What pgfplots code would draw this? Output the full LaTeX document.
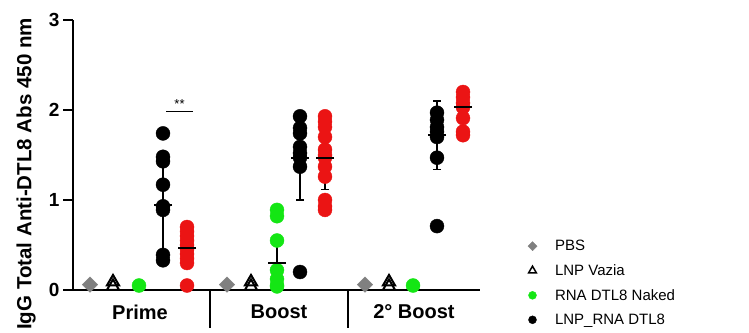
\documentclass[border=0pt]{standalone}
\usepackage{pgfplots}
\pgfplotsset{compat=1.18}
\usepackage{fontspec}
\setmainfont{Liberation Sans}
\definecolor{pbsgray}{RGB}{128,128,128}
\definecolor{nakedgreen}{RGB}{20,230,20}
\definecolor{lnpred}{RGB}{235,20,20}
\begin{document}
\begin{tikzpicture}[x=1pt,y=1pt]
\useasboundingbox (0,0) rectangle (749,332);
\begin{axis}[
  at={(73pt,42pt)}, anchor=south west, scale only axis,
  width=407pt, height=270pt,
  xmin=73, xmax=480, ymin=0, ymax=3,
  axis lines*=left,
  axis line style={line width=2.5pt, black},
  clip=false,
  ytick={0,1,2,3},
  xtick={140,279,414},
  xticklabels={Prime,Boost,2° Boost},
  tick align=outside,
  major tick length=10pt,
  x tick style={draw=none},
  y tick style={line width=2.5pt, black},
  yticklabel style={font=\fontsize{19}{19}\selectfont\bfseries},
  xticklabel style={font=\fontsize{20}{20}\selectfont\bfseries, yshift=-1pt},
  /pgf/number format/assume math mode=true,
  ylabel={IgG Total Anti-DTL8 Abs 450 nm},
  ylabel style={at={(axis description cs:-0.115,-0.148)}, anchor=west, inner sep=0pt, font=\fontsize{20.5}{20.5}\selectfont\bfseries},
  legend style={at={(axis description cs:1.11,0.20)}, anchor=north west, draw=none, fill=none,
    font=\fontsize{15}{18}\selectfont, row sep=8.3pt,
    /tikz/every odd column/.append style={column sep=16pt}},
  legend cell align=left,
]
\addlegendimage{only marks, mark=square*, color=pbsgray, mark size=3.2pt, mark options={rotate=45}}
\addlegendentry{PBS}
\addlegendimage{only marks, mark=triangle, color=black, mark size=4.5pt, mark options={line width=1.5pt}}
\addlegendentry{LNP Vazia}
\addlegendimage{only marks, mark=*, color=nakedgreen, mark size=4pt}
\addlegendentry{RNA DTL8 Naked}
\addlegendimage{only marks, mark=*, color=black, mark size=4pt}
\addlegendentry{LNP\_RNA DTL8}

% PBS
\addplot[forget plot, only marks, mark=square*, color=pbsgray, mark size=5.5pt, mark options={rotate=45}]
  coordinates {(90,0.06) (227,0.06) (365,0.06)};
% LNP Vazia
\addplot[forget plot, only marks, mark=triangle, color=black, mark size=7pt, mark options={line width=2pt}]
  coordinates {(113,0.04) (113,0.09) (251,0.04) (251,0.09) (389,0.04) (389,0.09)};
% RNA DTL8 Naked
\addplot[forget plot, only marks, mark=*, color=nakedgreen, mark size=7pt]
  coordinates {(139,0.05) (277,0.89) (277,0.82) (277,0.55) (277,0.22) (277,0.12) (277,0.05) (277,0.04) (413,0.05)};
% LNP_RNA DTL8
\addplot[forget plot, only marks, mark=*, color=black, mark size=7pt]
  coordinates {(163,1.74) (163,1.48) (163,1.43) (163,1.17) (163,0.93) (163,0.89) (163,0.39) (163,0.33)
               (300,1.93) (300,1.80) (300,1.74) (300,1.59) (300,1.52) (300,1.47) (300,1.37) (300,0.20)
               (437,1.97) (437,1.89) (437,1.81) (437,1.76) (437,1.70) (437,1.47) (437,0.71)};
% red group
\addplot[forget plot, only marks, mark=*, color=lnpred, mark size=7pt]
  coordinates {(187,0.70) (187,0.65) (187,0.60) (187,0.55) (187,0.50) (187,0.45) (187,0.40) (187,0.35) (187,0.30) (187,0.05)
               (325,1.93) (325,1.87) (325,1.81) (325,1.70) (325,1.56) (325,1.50) (325,1.47) (325,1.37) (325,1.26) (325,1.00) (325,0.93) (325,0.89)
               (463,2.20) (463,2.14) (463,2.08) (463,2.03) (463,1.91) (463,1.76) (463,1.72)};
% means and SD
\addplot[forget plot, only marks, mark=-, mark size=9pt, color=black, mark options={line width=2pt},
  error bars/.cd, y dir=both, y explicit,
  error bar style={line width=1.3pt, black},
  error mark options={rotate=90, mark size=4pt, line width=1.3pt, black}]
  coordinates {(163,0.94) +- (0,0.55)
               (187,0.47) +- (0,0.20)
               (277,0.30) +- (0,0.20)
               (300,1.47) +- (0,0.47)
               (325,1.47) +- (0,0.35)
               (437,1.72) +- (0,0.38)
               (463,2.03) +- (0,0.17)};
% separators
\draw[line width=2.5pt] (axis cs:210,0) -- ++(0pt,-38pt);
\draw[line width=2.5pt] (axis cs:348,0) -- ++(0pt,-38pt);
% significance
\draw[line width=1pt] (axis cs:166,1.98) -- (axis cs:193,1.98);
\node[font=\fontsize{13}{13}\selectfont, anchor=south, inner sep=2pt] at (axis cs:179.5,1.99) {**};
\end{axis}
\end{tikzpicture}
\end{document}
